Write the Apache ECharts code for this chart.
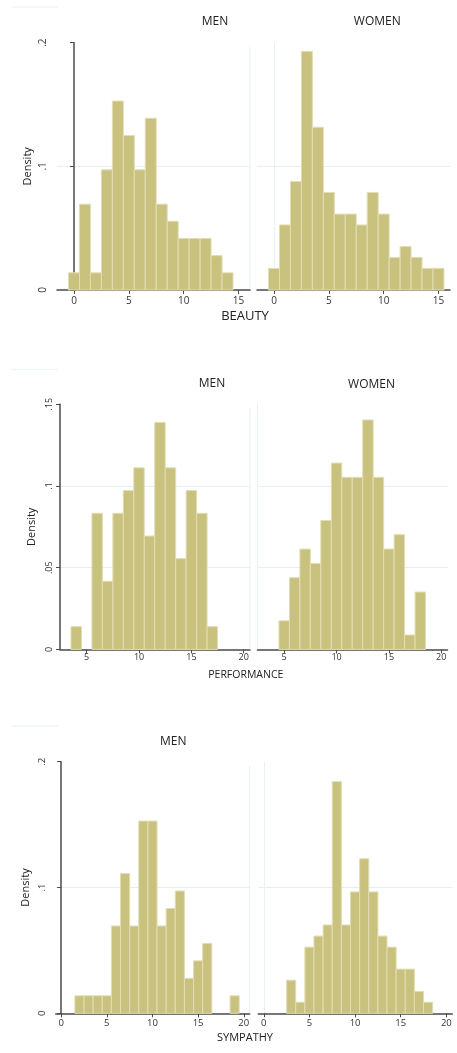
<!DOCTYPE html>
<html>
<head>
<meta charset="utf-8">
<script src="https://cdn.jsdelivr.net/npm/echarts@6/dist/echarts.min.js"></script>
<style>
  html, body { margin: 0; padding: 0; background: #ffffff; }
  #chart { width: 457px; height: 1053px; }
</style>
</head>
<body>
<div id="chart"></div>
<script>
// Histogram bins (bin centres, width 1) and densities per group
const beautyMenBins = [0, 1, 2, 3, 4, 5, 6, 7, 8, 9, 10, 11, 12, 13, 14];
const beautyMen = [0.0139, 0.0694, 0.0139, 0.0972, 0.1528, 0.1250, 0.0972, 0.1389, 0.0694, 0.0556, 0.0417, 0.0417, 0.0417, 0.0278, 0.0139];
const beautyWomenBins = [0, 1, 2, 3, 4, 5, 6, 7, 8, 9, 10, 11, 12, 13, 14, 15];
const beautyWomen = [0.0175, 0.0526, 0.0877, 0.1930, 0.1316, 0.0789, 0.0614, 0.0614, 0.0526, 0.0789, 0.0614, 0.0263, 0.0351, 0.0263, 0.0175, 0.0175];

const performanceMenBins = [4, 5, 6, 7, 8, 9, 10, 11, 12, 13, 14, 15, 16, 17];
const performanceMen = [0.0139, 0, 0.0833, 0.0417, 0.0833, 0.0972, 0.1111, 0.0694, 0.1389, 0.1111, 0.0556, 0.0972, 0.0833, 0.0139];
const performanceWomenBins = [5, 6, 7, 8, 9, 10, 11, 12, 13, 14, 15, 16, 17, 18];
const performanceWomen = [0.0175, 0.0439, 0.0614, 0.0526, 0.0789, 0.1140, 0.1053, 0.1053, 0.1404, 0.1053, 0.0614, 0.0702, 0.0088, 0.0351];

const sympathyMenBins = [2, 3, 4, 5, 6, 7, 8, 9, 10, 11, 12, 13, 14, 15, 16, 17, 18, 19];
const sympathyMen = [0.0139, 0.0139, 0.0139, 0.0139, 0.0694, 0.1111, 0.0694, 0.1528, 0.1528, 0.0694, 0.0833, 0.0972, 0.0278, 0.0417, 0.0556, 0, 0, 0.0139];
const sympathyWomenBins = [3, 4, 5, 6, 7, 8, 9, 10, 11, 12, 13, 14, 15, 16, 17, 18];
const sympathyWomen = [0.0263, 0.0088, 0.0526, 0.0614, 0.0702, 0.1842, 0.0702, 0.0965, 0.1228, 0.0965, 0.0614, 0.0526, 0.0351, 0.0351, 0.0175, 0.0088];

// Tick labels
const beautyXTicks = [0, 5, 10, 15];
const beautyYTicks = [0, 0.1, 0.2];
const performanceXTicks = [5, 10, 15, 20];
const performanceYTicks = [0, 0.05, 0.1, 0.15];
const sympathyXTicks = [0, 5, 10, 15, 20];
const sympathyYTicks = [0, 0.1, 0.2];

const groupTitles = ['MEN', 'WOMEN'];
const variableNames = ['BEAUTY', 'PERFORMANCE', 'SYMPATHY'];
const yTitle = 'Density';

// Panel layout (pixels) for each row of the figure
const rows = [
  {
    bins: [beautyMenBins, beautyWomenBins], values: [beautyMen, beautyWomen],
    xTicks: beautyXTicks, yTicks: beautyYTicks, yMax: 0.2, yInterval: 0.1,
    xMin: -1.55, xMax: 16.05, top: 42.7, height: 247.3,
    lefts: [57, 257], width: 193, tickFont: 10, labelMargin: 6, yLabelMargin: 9,
    nameGap: 24, titles: [[215, 21.7, 'MEN'], [377.3, 21.7, 'WOMEN']],
    varLabel: [245, 316.7, 13]
  },
  {
    bins: [performanceMenBins, performanceWomenBins], values: [performanceMen, performanceWomen],
    xTicks: performanceXTicks, yTicks: performanceYTicks, yMax: 0.15, yInterval: 0.05,
    xMin: 2.45, xMax: 20.6, top: 404.3, height: 245.1,
    lefts: [60, 257.5], width: 190, tickFont: 9, labelMargin: 4, yLabelMargin: 6,
    nameGap: 23, titles: [[212, 384, 'MEN'], [371.5, 384.5, 'WOMEN']],
    varLabel: [245.8, 674.7, 10.5]
  },
  {
    bins: [sympathyMenBins, sympathyWomenBins], values: [sympathyMen, sympathyWomen],
    xTicks: sympathyXTicks, yTicks: sympathyYTicks, yMax: 0.2, yInterval: 0.1,
    xMin: -0.6, xMax: 20.65, top: 761.7, height: 251.6,
    lefts: [55.7, 258.3], width: 194, tickFont: 9.5, labelMargin: 5, yLabelMargin: 8,
    nameGap: 24, titles: [[173.3, 742, 'MEN']],
    varLabel: [245, 1038.3, 11]
  }
];

const FONT = '"Open Sans", "Noto Sans", sans-serif';
const BAR_FILL = '#c9c27e';
const BAR_EDGE = '#e2ddb4';
const AXIS_COLOR = '#4a4a4a';
const GRID_COLOR = '#e4eff1';
const FAINT = '#eaf1f2';

function fmtDensity(v) {
  const r = +(+v).toFixed(3);
  if (r === 0) return '0';
  return String(r).replace(/^0\./, '.');
}

function renderBar(params, api) {
  const x = api.value(0);
  const y = api.value(1);
  if (!y) return null;
  const p0 = api.coord([x - 0.5, y]);
  const p1 = api.coord([x + 0.5, 0]);
  return {
    type: 'rect',
    shape: { x: p0[0], y: p0[1], width: p1[0] - p0[0], height: p1[1] - p0[1] },
    style: { fill: BAR_FILL, stroke: BAR_EDGE, lineWidth: 1 }
  };
}

const grid = [], xAxis = [], yAxis = [], series = [], graphic = [];

rows.forEach((row, r) => {
  [0, 1].forEach(side => {
    const idx = grid.length;
    grid.push({ left: row.lefts[side], top: row.top, width: row.width, height: row.height });
    xAxis.push({
      type: 'value', gridIndex: idx, min: row.xMin, max: row.xMax,
      axisLine: { show: true, onZero: false, lineStyle: { color: AXIS_COLOR, width: 1.5 } },
      axisTick: { show: true, length: 4, customValues: row.xTicks, lineStyle: { color: AXIS_COLOR, width: 1 } },
      axisLabel: { customValues: row.xTicks, fontFamily: FONT, fontSize: row.tickFont, color: '#333', margin: row.labelMargin },
      splitLine: { show: false }
    });
    const isLeft = side === 0;
    yAxis.push({
      type: 'value', gridIndex: idx, min: 0, max: row.yMax, interval: row.yInterval,
      name: isLeft ? yTitle : '', nameLocation: 'middle', nameRotate: 90, nameGap: row.nameGap,
      nameTextStyle: { fontFamily: FONT, fontSize: 11, color: '#222' },
      axisLine: { show: true, lineStyle: { color: isLeft ? AXIS_COLOR : FAINT, width: isLeft ? 1.5 : 1 } },
      axisTick: { show: isLeft, length: 4, lineStyle: { color: AXIS_COLOR, width: 1 } },
      axisLabel: {
        show: isLeft, rotate: 90, fontFamily: FONT, fontSize: row.tickFont, color: '#333',
        margin: row.yLabelMargin, formatter: fmtDensity
      },
      splitLine: { show: true, showMinLine: false, showMaxLine: false, lineStyle: { color: GRID_COLOR, width: 1 } }
    });
    series.push({
      type: 'custom', xAxisIndex: idx, yAxisIndex: idx,
      renderItem: renderBar,
      data: row.bins[side].map((b, i) => [b, row.values[side][i]]),
      silent: true
    });
  });

  // faint right edge of the left panel
  const edgeX = row.lefts[0] + row.width;
  graphic.push({
    type: 'line', silent: true,
    shape: { x1: edgeX, y1: row.top + 4, x2: edgeX, y2: row.top + row.height },
    style: { stroke: FAINT, lineWidth: 1 }
  });
  // faint rule at the top-left of each block
  graphic.push({
    type: 'rect', silent: true,
    shape: { x: 12, y: row.top - (r === 0 ? 36.5 : r === 1 ? 35.5 : 36.5), width: 46, height: 1.5 },
    style: { fill: '#f1f5f5' }
  });

  row.titles.forEach(t => {
    graphic.push({
      type: 'text', silent: true, x: t[0], y: t[1],
      style: { text: t[2], font: '12px ' + FONT, fill: '#222', textAlign: 'center', textVerticalAlign: 'middle' }
    });
  });
  graphic.push({
    type: 'text', silent: true, x: row.varLabel[0], y: row.varLabel[1],
    style: { text: variableNames[r], font: row.varLabel[2] + 'px ' + FONT, fill: '#222', textAlign: 'center', textVerticalAlign: 'middle' }
  });
});

const chart = echarts.init(document.getElementById('chart'), null, { renderer: 'canvas' });
chart.setOption({
  animation: false,
  backgroundColor: '#ffffff',
  grid, xAxis, yAxis, series, graphic
});
</script>
</body>
</html>
